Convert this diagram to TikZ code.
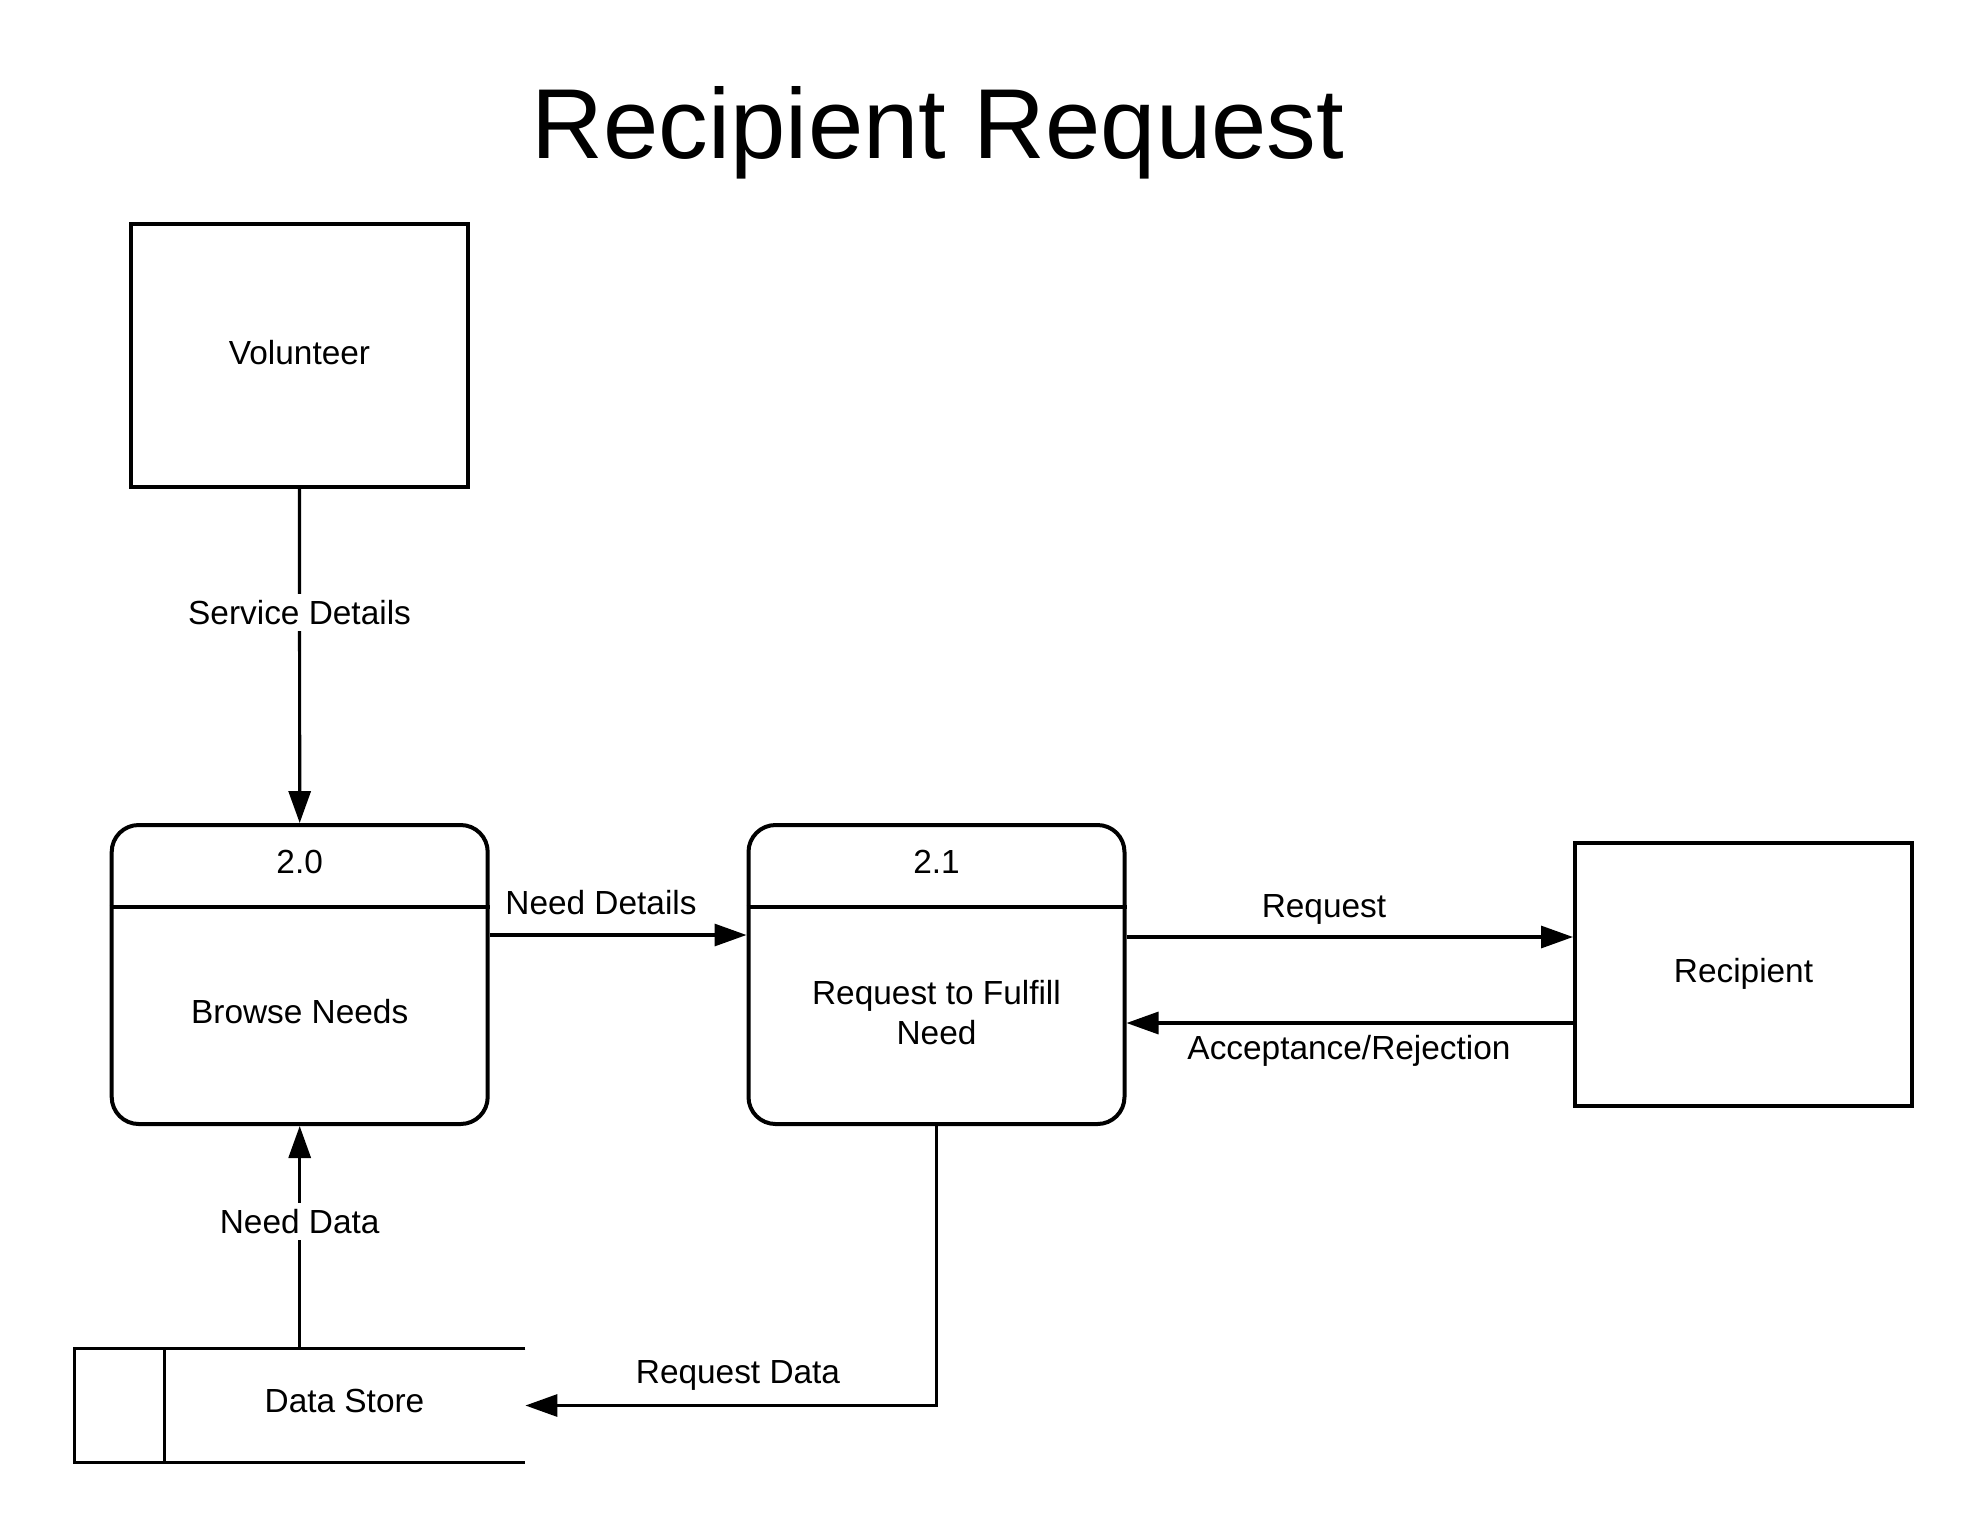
\documentclass[tikz,border=0pt]{standalone}
\usepackage{fontspec}
\setmainfont{Liberation Sans}
\usetikzlibrary{arrows.meta}
\begin{document}
\begin{tikzpicture}[x=0.5pt,y=-0.5pt,
  every node/.style={font=\fontsize{16.7}{20}\selectfont},
  ent/.style={draw, line width=2pt, inner sep=0pt, minimum width=168.5pt, minimum height=131.5pt},
  proc/.style={draw, line width=2pt, rounded corners=13.5pt, inner sep=0pt, minimum width=188pt, minimum height=149.5pt},
  flow/.style={line width=1.6pt, -{Triangle[length=16pt,width=11pt]}},
  lbl/.style={fill=white, inner sep=3pt},
  txt/.style={inner sep=0pt, align=center}]
\path[use as bounding box] (0,0) rectangle (1988,1538);
% title
\node[font=\fontsize{49.7}{60}\selectfont, anchor=base, inner sep=0pt] (title) at (938,158) {Recipient Request};
% entities
\node[ent] (vol) at (299.5,355.6) {};
\node[txt] (tvol) at (299.5,352.5) {Volunteer};
\node[ent] (rec) at (1743.5,974.5) {};
\node[txt] (trec) at (1743.5,973.5) {Recipient};
% processes
\node[proc] (p20) at (299.7,974.5) {};
\node[proc] (p21) at (936.5,974.5) {};
\draw[line width=1.6pt] ([yshift=-42pt]p20.north west) -- ([yshift=-42pt]p20.north east);
\draw[line width=1.6pt] ([yshift=-42pt]p21.north west) -- ([yshift=-42pt]p21.north east);
\node[txt] (n20) at (299.7,862) {2.0};
\node[txt] (n21) at (936.5,862) {2.1};
\node[txt] (t20) at (299.7,1012) {Browse Needs};
\node[txt] (t21) at (936.5,1013) {Request to Fulfill\\Need};
% data store
\node[inner sep=0pt, minimum width=225pt, minimum height=56.5pt] (ds) at (300,1405.5) {};
\draw[line width=1.6pt] (ds.north east) -- (ds.north west) -- (ds.south west) -- (ds.south east);
\draw[line width=1.6pt] ([xshift=45pt]ds.north west) -- ([xshift=45pt]ds.south west);
\node[txt] (tds) at (344.5,1401) {Data Store};
% flows
\draw[flow] (vol.south) -- node[lbl, pos=0.37] (l1) {Service Details} (p20.north);
\draw[flow] ([yshift=19.75pt]p20.east) -- ([yshift=19.75pt]p21.west);
\node[txt] (l2) at (601,903) {Need Details};
\draw[flow] ([yshift=18.75pt]p21.east) -- ([yshift=18.75pt]rec.west);
\node[txt] (l3) at (1324,909) {Request};
\draw[flow] ([yshift=-24.25pt]rec.west) -- ([yshift=-24.25pt]p21.east);
\node[txt] (l4) at (1349,1051) {Acceptance/Rejection};
\draw[flow] (ds.north -| p20.south) -- node[lbl, pos=0.57] (l5) {Need Data} (p20.south);
\draw[flow] (p21.south) |- (ds.east);
\node[txt] (l6) at (738,1375) {Request Data};
\end{tikzpicture}
\end{document}
